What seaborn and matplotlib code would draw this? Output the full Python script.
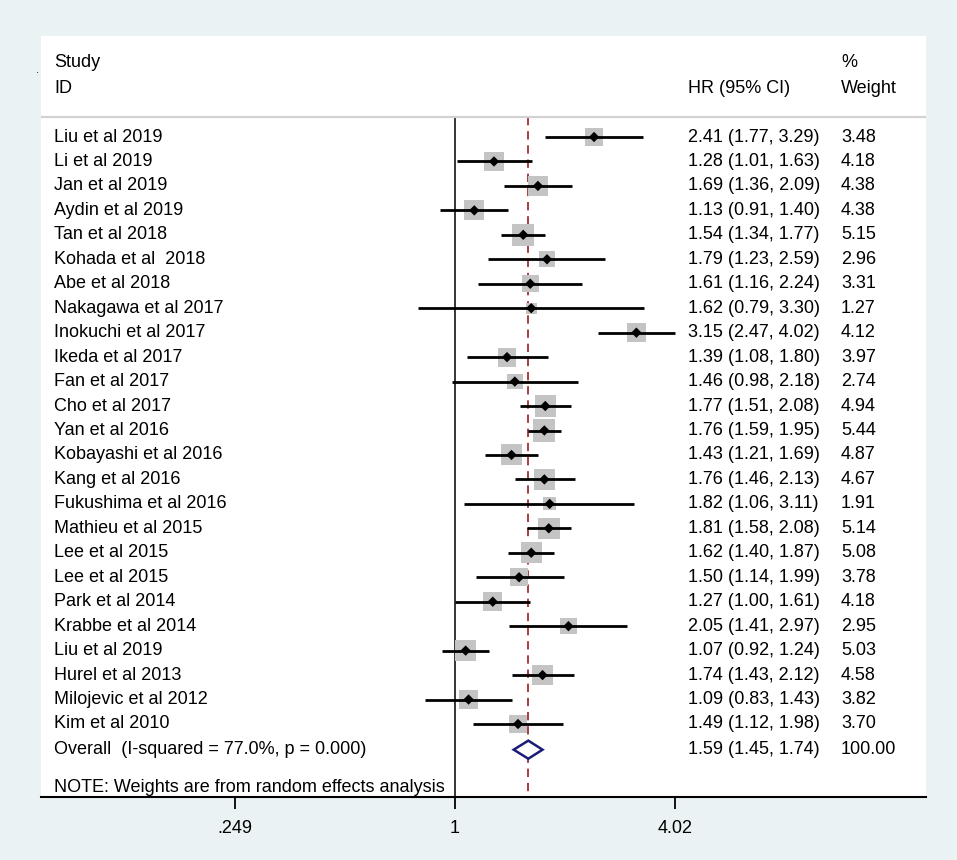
import numpy as np
import pandas as pd
import matplotlib
matplotlib.use("Agg")
import matplotlib.pyplot as plt
import matplotlib.transforms as mtransforms
import seaborn as sns

# Study-level hazard ratios
studies = ["Liu et al 2019", "Li et al 2019", "Jan et al 2019", "Aydin et al 2019",
           "Tan et al 2018", "Kohada et al  2018", "Abe et al 2018", "Nakagawa et al 2017",
           "Inokuchi et al 2017", "Ikeda et al 2017", "Fan et al 2017", "Cho et al 2017",
           "Yan et al 2016", "Kobayashi et al 2016", "Kang et al 2016", "Fukushima et al 2016",
           "Mathieu et al 2015", "Lee et al 2015", "Lee et al 2015", "Park et al 2014",
           "Krabbe et al 2014", "Liu et al 2019", "Hurel et al 2013", "Milojevic et al 2012",
           "Kim et al 2010"]
hr = [2.41, 1.28, 1.69, 1.13, 1.54, 1.79, 1.61, 1.62, 3.15, 1.39, 1.46, 1.77, 1.76,
      1.43, 1.76, 1.82, 1.81, 1.62, 1.50, 1.27, 2.05, 1.07, 1.74, 1.09, 1.49]
ci_low = [1.77, 1.01, 1.36, 0.91, 1.34, 1.23, 1.16, 0.79, 2.47, 1.08, 0.98, 1.51, 1.59,
          1.21, 1.46, 1.06, 1.58, 1.40, 1.14, 1.00, 1.41, 0.92, 1.43, 0.83, 1.12]
ci_high = [3.29, 1.63, 2.09, 1.40, 1.77, 2.59, 2.24, 3.30, 4.02, 1.80, 2.18, 2.08, 1.95,
           1.69, 2.13, 3.11, 2.08, 1.87, 1.99, 1.61, 2.97, 1.24, 2.12, 1.43, 1.98]
weight = [3.48, 4.18, 4.38, 4.38, 5.15, 2.96, 3.31, 1.27, 4.12, 3.97, 2.74, 4.94, 5.44,
          4.87, 4.67, 1.91, 5.14, 5.08, 3.78, 4.18, 2.95, 5.03, 4.58, 3.82, 3.70]

overall_label = "Overall  (I-squared = 77.0%, p = 0.000)"
overall_hr, overall_low, overall_high = 1.59, 1.45, 1.74
overall_weight = "100.00"
note = "NOTE: Weights are from random effects analysis"
tick_values = [0.249, 1, 4.02]
tick_labels = [".249", "1", "4.02"]

df = pd.DataFrame({"study": studies, "hr": hr, "low": ci_low, "high": ci_high,
                   "weight": weight})
df["row"] = np.arange(len(df))

sns.set_theme(style="white")
plt.rcParams["font.family"] = ["Liberation Sans", "DejaVu Sans"]
plt.rcParams["text.color"] = "black"
plt.rcParams["xtick.labelcolor"] = "black"
FS = 13
BG = "#EAF2F3"

fig = plt.figure(figsize=(9.57, 8.6), dpi=100, facecolor=BG)
ax = fig.add_axes([41 / 957, 1 - 797 / 860, 885 / 957, 761 / 860])
ax.set_facecolor("white")

ax.set_xscale("log")
ax.set_xlim(np.exp(-2.618), np.exp(2.979))
ax.set_ylim(26.985, -4.13)

# weight boxes
wmin, wmax = df["weight"].min(), df["weight"].max()
sns.scatterplot(data=df, x="hr", y="row", size="weight",
                sizes=(46.8 * wmin, 46.8 * wmax), size_norm=(wmin, wmax),
                marker="s", color="#C4C4C4", edgecolor="none", legend=False,
                ax=ax, zorder=2)
# confidence intervals
ax.hlines(df["row"], df["low"], df["high"], color="black", lw=2.0, zorder=3)
# point estimates
sns.scatterplot(data=df, x="hr", y="row", marker="D", s=28, color="black",
                edgecolor="none", legend=False, ax=ax, zorder=4)

overall_row = 25.05
ax.fill([overall_low, overall_hr, overall_high, overall_hr],
        [overall_row, overall_row - 0.37, overall_row, overall_row + 0.37],
        facecolor="white", edgecolor="#1C1C78", lw=1.8, zorder=4)

# reference lines
top_line = -0.82
ax.plot([1, 1], [top_line, 26.985], color="black", lw=1.1, zorder=1)
ax.plot([overall_hr, overall_hr], [top_line, 26.985], color="#9E1B1B", lw=1.2,
        dashes=(5, 3.5), zorder=1)
ax.axhline(top_line, color="#D2D2D2", lw=1.6, zorder=1)

# text columns
trans = mtransforms.blended_transform_factory(ax.transAxes, ax.transData)
x_name, x_hr, x_wt = (54 - 41) / 885, (688 - 41) / 885, (841 - 41) / 885
for _, r in df.iterrows():
    ax.text(x_name, r["row"], r["study"], transform=trans, va="center", fontsize=FS)
    ax.text(x_hr, r["row"], f"{r['hr']:.2f} ({r['low']:.2f}, {r['high']:.2f})",
            transform=trans, va="center", fontsize=FS)
    ax.text(x_wt, r["row"], f"{r['weight']:.2f}", transform=trans, va="center",
            fontsize=FS)

ax.text(x_name, overall_row, overall_label, transform=trans, va="center", fontsize=FS)
ax.text(x_hr, overall_row, f"{overall_hr:.2f} ({overall_low:.2f}, {overall_high:.2f})",
        transform=trans, va="center", fontsize=FS)
ax.text(x_wt, overall_row, overall_weight, transform=trans, va="center", fontsize=FS)
ax.text(x_name, 26.58, note, transform=trans, va="center", fontsize=FS)

# header
ax.text(x_name, -3.03, "Study", transform=trans, va="center", fontsize=FS)
ax.text(x_name, -2.0, "ID", transform=trans, va="center", fontsize=FS)
ax.text(x_hr, -2.0, "HR (95% CI)", transform=trans, va="center", fontsize=FS)
ax.text(x_wt, -3.03, "%", transform=trans, va="center", fontsize=FS)
ax.text(x_wt, -2.0, "Weight", transform=trans, va="center", fontsize=FS)
fig.text(36 / 957, 1 - 70 / 860, ".", fontsize=8, va="center")

# axes styling
for side in ["top", "left", "right"]:
    ax.spines[side].set_visible(False)
ax.spines["bottom"].set_color("black")
ax.spines["bottom"].set_linewidth(1.5)
ax.set_xticks(tick_values)
ax.set_xticklabels(tick_labels, fontsize=FS)
ax.xaxis.set_minor_locator(matplotlib.ticker.NullLocator())
ax.tick_params(axis="x", bottom=True, length=8.6, width=1.3, color="black", pad=8)
ax.set_yticks([])
ax.set_xlabel("")
ax.set_ylabel("")
ax.grid(False)

fig.savefig("out.png", dpi=100, facecolor=BG)
